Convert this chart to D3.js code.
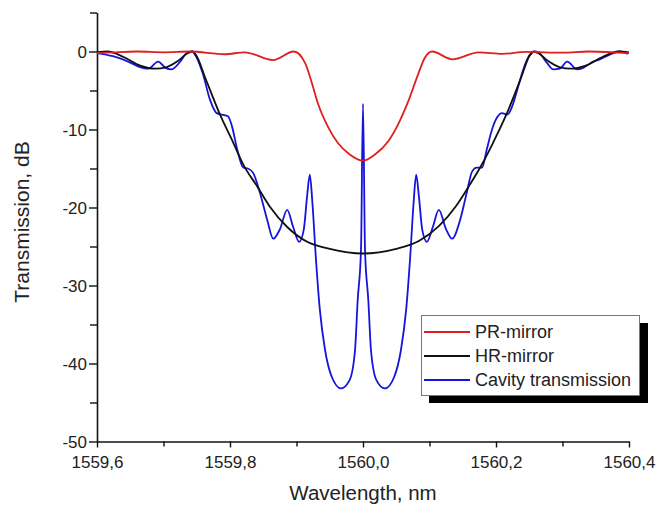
<!DOCTYPE html>
<html>
<head>
<meta charset="utf-8">
<script src="https://cdn.jsdelivr.net/npm/d3@7"></script>
<style>
  body { margin: 0; background: #fff; }
  svg text { font-family: Arial, "Liberation Sans", sans-serif; fill: #222; }
</style>
</head>
<body>
<svg id="chart" width="656" height="505"></svg>
<script>
// PR-mirror (red)
var wlPR = [1559.600, 1559.625, 1559.660, 1559.700, 1559.740, 1559.792, 1559.822, 1559.865, 1559.896,
  1559.913, 1559.923, 1559.932, 1559.947, 1559.962, 1559.980, 1560.000, 1560.018, 1560.038, 1560.053,
  1560.068, 1560.083, 1560.093, 1560.104, 1560.134, 1560.174, 1560.210, 1560.245, 1560.300, 1560.340, 1560.400];
var dbPR = [-0.2, -0.1, 0.0, -0.1, 0.0, -0.35, -0.1, -1.1, 0.0,
  -1.5, -4.0, -6.6, -9.6, -11.7, -13.2, -14.0, -13.2, -11.5, -9.3,
  -6.4, -2.9, -0.8, 0.0, -1.0, -0.1, -0.3, -0.05, -0.15, 0.0, -0.2];

// HR-mirror (black)
var wlHR = [1559.600, 1559.616, 1559.640, 1559.665, 1559.687, 1559.705, 1559.722, 1559.735, 1559.743,
  1559.750, 1559.762, 1559.785, 1559.805, 1559.820, 1559.841, 1559.860, 1559.886, 1559.916, 1559.950,
  1560.000, 1560.050, 1560.084, 1560.114, 1560.140, 1560.159, 1560.180, 1560.195, 1560.215, 1560.238,
  1560.250, 1560.257, 1560.265, 1560.278, 1560.295, 1560.313, 1560.335, 1560.360, 1560.384, 1560.400];
var dbHR = [-0.1, 0.0, -0.7, -1.8, -2.2, -2.0, -1.2, -0.3, 0.0,
  -0.6, -3.2, -8.1, -11.7, -14.5, -17.3, -19.9, -22.5, -24.4, -25.3,
  -25.9, -25.3, -24.3, -22.4, -19.8, -17.3, -14.3, -11.8, -8.2, -3.3,
  -0.6, 0.0, -0.3, -1.2, -2.0, -2.2, -1.8, -0.7, 0.0, -0.1];

// Cavity transmission (blue)
var wlCav = [1559.600, 1559.624, 1559.639, 1559.669, 1559.677, 1559.692, 1559.703, 1559.712, 1559.725,
  1559.735, 1559.743, 1559.750, 1559.759, 1559.770, 1559.780, 1559.788, 1559.797, 1559.803, 1559.811,
  1559.820, 1559.827, 1559.835, 1559.845, 1559.856, 1559.865, 1559.875, 1559.886, 1559.895, 1559.904,
  1559.911, 1559.916, 1559.920, 1559.924, 1559.929, 1559.935, 1559.943, 1559.953, 1559.967, 1559.980,
  1559.988, 1559.992, 1559.997, 1560.000, 1560.003, 1560.008, 1560.012, 1560.020, 1560.033, 1560.047,
  1560.057, 1560.065, 1560.071, 1560.076, 1560.080, 1560.084, 1560.089, 1560.096, 1560.105, 1560.114,
  1560.125, 1560.134, 1560.146, 1560.156, 1560.164, 1560.171, 1560.179, 1560.186, 1560.194, 1560.202,
  1560.209, 1560.217, 1560.224, 1560.232, 1560.241, 1560.251, 1560.259, 1560.265, 1560.277, 1560.286,
  1560.296, 1560.307, 1560.322, 1560.331, 1560.346, 1560.356, 1560.371, 1560.386, 1560.398];
var dbCav = [-0.2, -0.6, -1.0, -2.1, -2.2, -1.3, -2.1, -2.3, -1.3,
  -0.2, 0.0, -0.8, -2.8, -6.2, -7.9, -8.1, -8.3, -9.6, -12.6,
  -14.9, -15.0, -15.6, -18.1, -21.6, -24.0, -22.8, -20.3, -22.5, -24.4,
  -22.8, -18.5, -15.8, -19.5, -26.3, -33.0, -38.3, -41.7, -43.2, -42.1,
  -38.3, -31.9, -25.4, -6.7, -25.4, -31.9, -38.3, -42.1, -43.2, -41.7,
  -38.3, -33.0, -26.3, -19.5, -15.8, -18.5, -22.8, -24.4, -22.5, -20.3,
  -22.8, -24.0, -21.6, -18.1, -15.4, -14.9, -14.9, -12.6, -10.0, -8.4,
  -7.9, -8.1, -7.1, -4.9, -2.3, -0.4, 0.0, -0.2, -1.5, -2.3,
  -2.2, -1.3, -2.3, -2.1, -1.3, -1.0, -0.4, 0.0, -0.3];

var xTicks = [1559.6, 1559.8, 1560.0, 1560.2, 1560.4],
    xMinor = [1559.7, 1559.9, 1560.1, 1560.3],
    yTicks = [0, -10, -20, -30, -40, -50],
    yMinor = [5, -5, -15, -25, -35, -45];

var series = [
  { name: 'Cavity transmission', wl: wlCav, db: dbCav, color: '#1414dc' },
  { name: 'HR-mirror', wl: wlHR, db: dbHR, color: '#111' },
  { name: 'PR-mirror', wl: wlPR, db: dbPR, color: '#de1f1f' }
];

var svg = d3.select('#chart');

var x = d3.scaleLinear()
  .domain([1559.6, 1560.4])
  .range([97, 629]);
var y = d3.scaleLinear()
  .domain([-50, 5])
  .range([441.5, 12.5]);

var fmt = function(d) { return d3.format('.1f')(d).replace('.', ','); };

// x axis
var xAxis = svg.append('g')
  .attr('transform', 'translate(0,441.5)')
  .call(d3.axisBottom(x).tickValues(xTicks).tickFormat(fmt).tickSize(6).tickSizeOuter(0));
svg.append('g')
  .attr('transform', 'translate(0,441.5)')
  .call(d3.axisBottom(x).tickValues(xMinor).tickFormat('').tickSize(5).tickSizeOuter(0))
  .select('.domain').remove();

// y axis, plain hyphen for negatives like the original
var yAxis = svg.append('g')
  .attr('transform', 'translate(97,0)')
  .call(d3.axisLeft(y).tickValues(yTicks).tickFormat(function(d) { return String(d); })
    .tickSize(8).tickSizeOuter(0));
svg.append('g')
  .attr('transform', 'translate(97,0)')
  .call(d3.axisLeft(y).tickValues(yMinor).tickFormat('').tickSize(7).tickSizeOuter(0))
  .select('.domain').remove();

svg.selectAll('.domain').attr('stroke', '#111').attr('stroke-width', 1.6);
svg.selectAll('.tick line').attr('stroke', '#111').attr('stroke-width', 1.4);
xAxis.selectAll('.tick text').attr('font-size', 17).attr('dy', '1.05em');
yAxis.selectAll('.tick text').attr('font-size', 17).attr('x', -10).attr('dy', '0.35em');
svg.selectAll('.tick text').style('font-family', 'Arial, "Liberation Sans", sans-serif').attr('fill', '#222');

// axis titles
svg.append('text')
  .attr('x', 363)
  .attr('y', 500)
  .attr('text-anchor', 'middle')
  .attr('font-size', 20.5)
  .text('Wavelength, nm');
svg.append('text')
  .attr('transform', 'translate(29,222) rotate(-90)')
  .attr('text-anchor', 'middle')
  .attr('font-size', 21)
  .text('Transmission, dB');

// curves
var line = d3.line()
  .x(function(d) { return x(d[0]); })
  .y(function(d) { return y(d[1]); })
  .curve(d3.curveMonotoneX);

svg.selectAll('path.curve')
  .data(series)
  .enter()
  .append('path')
    .attr('class', 'curve')
    .attr('fill', 'none')
    .attr('stroke', function(d) { return d.color; })
    .attr('stroke-width', 1.8)
    .attr('d', function(d) {
      return line(d.wl.map(function(w, i) { return [w, d.db[i]]; }));
    });

// legend
var legend = svg.append('g');
legend.append('rect')
  .attr('x', 429).attr('y', 323)
  .attr('width', 219).attr('height', 80)
  .attr('fill', '#000');
legend.append('rect')
  .attr('x', 421.5).attr('y', 315.5)
  .attr('width', 218).attr('height', 80)
  .attr('fill', '#fff')
  .attr('stroke', '#777')
  .attr('stroke-width', 1);

var legendItems = [series[2], series[1], series[0]];
legend.selectAll('g.item')
  .data(legendItems)
  .enter()
  .append('g')
    .attr('class', 'item')
    .attr('transform', function(d, i) { return 'translate(0,' + (332 + i * 24) + ')'; })
    .each(function(d) {
      var g = d3.select(this);
      g.append('line')
        .attr('x1', 424).attr('x2', 470)
        .attr('stroke', d.color)
        .attr('stroke-width', 1.8);
      g.append('text')
        .attr('x', 475)
        .attr('dy', '0.36em')
        .attr('font-size', 18)
        .text(d.name);
    });
</script>
</body>
</html>
